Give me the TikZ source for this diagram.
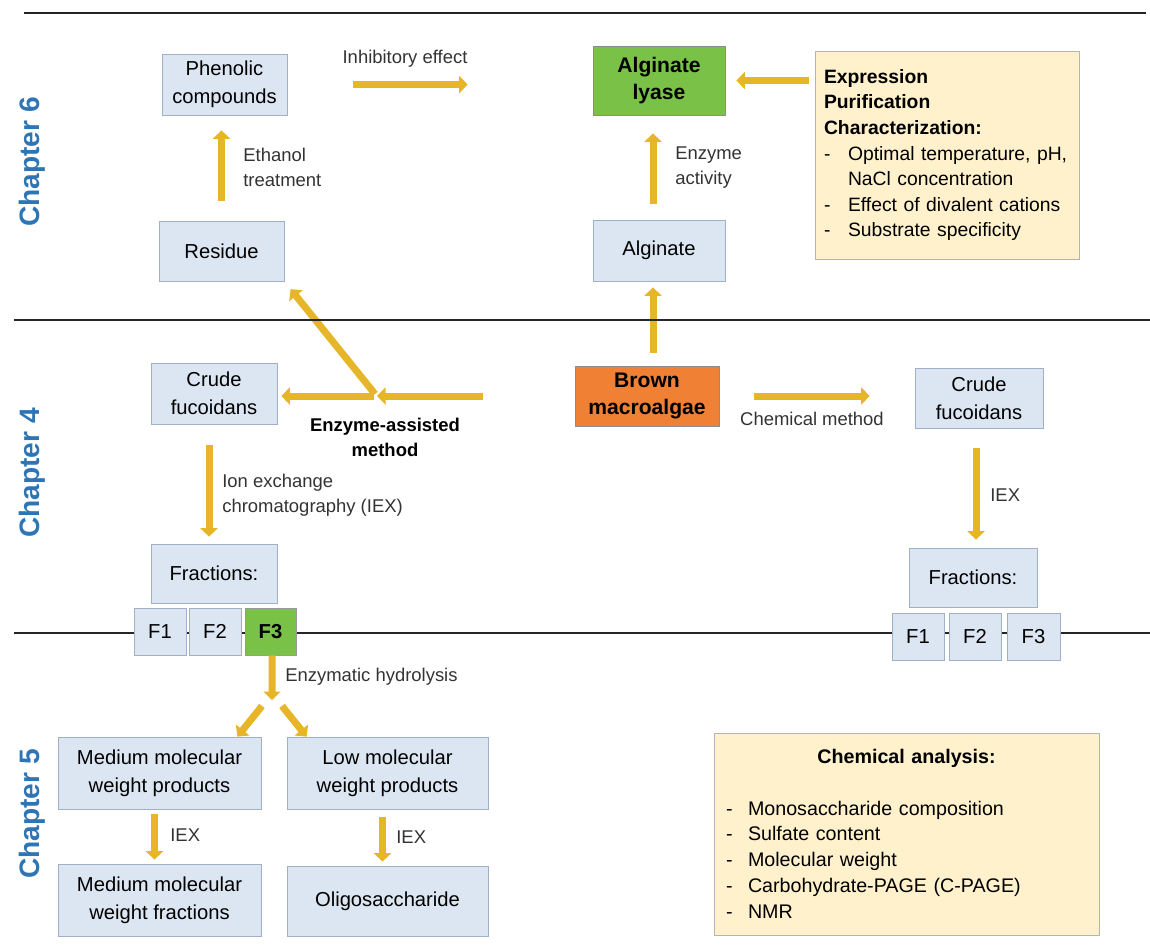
\documentclass[tikz,border=0pt]{standalone}
\usepackage{fontspec}
\setmainfont{Liberation Sans}
\usetikzlibrary{arrows.meta}

\definecolor{boxfill}{RGB}{220,230,242}
\definecolor{boxline}{RGB}{160,176,198}
\definecolor{leafgreen}{RGB}{122,193,72}
\definecolor{algaeorange}{RGB}{240,128,52}
\definecolor{notefill}{RGB}{255,241,204}
\definecolor{noteline}{RGB}{180,180,180}
\definecolor{flowgold}{RGB}{230,182,40}
\definecolor{chapblue}{RGB}{46,117,182}

\tikzset{
  box/.style={draw=boxline, fill=boxfill, align=center, inner sep=2pt,
    font=\fontsize{11.5}{15.9}\selectfont},
  sz/.style 2 args={minimum width=#1*0.02cm, minimum height=#2*0.02cm},
  keybox/.style={box, draw=black!45, font=\fontsize{12}{15.5}\selectfont\bfseries},
  notebox/.style={draw=noteline, fill=notefill, align=left, inner ysep=0.1cm},
  flow/.style={draw=flowgold, line width=0.14cm, -{Triangle[width=0.34cm,length=0.17cm]}},
  lbl/.style={font=\fontsize{10.5}{14.2}\selectfont, align=left, text=black!80, inner sep=0pt},
  chap/.style={font=\fontsize{16}{19}\selectfont\bfseries, text=chapblue, rotate=90},
  divider/.style={line width=0.055cm, black!85}
}

\begin{document}
\begin{tikzpicture}[x=0.02cm, y=-0.02cm]
  \useasboundingbox (0,0) rectangle (1150,951);

  %% Dividers
  \draw[divider] (24,13) -- (1146,13);
  \draw[divider] (14,633) -- (1150,633);

  %% Chapter labels
  \node[chap] (ch6) at (32,162) {Chapter 6};
  \node[chap] (ch4) at (32,473) {Chapter 4};
  \node[chap] (ch5) at (32,814) {Chapter 5};

  %% Chapter 6
  \node[box, sz={125}{61}] (phenolic) at (224.5,84.5) {Phenolic\\compounds};
  \node[box, sz={125}{60}] (residue) at (221.5,251) {Residue};
  \node[keybox, fill=leafgreen, sz={132}{69}] (lyase) at (659,80.5) {Alginate\\lyase};
  \node[box, sz={132}{61}] (alginate) at (659,250.5) {Alginate};
  \node[notebox, text width=4.92cm, inner xsep=0.18cm, minimum height=208*0.02cm,
    font=\fontsize{11}{14.6}\selectfont] (expr) at (947,155)
    {\textbf{Expression}\\
     \textbf{Purification}\\
     \textbf{Characterization:}\\
     \makebox[0.48cm][l]{-}Optimal temperature, pH,\\
     \hspace*{0.48cm}NaCl concentration\\
     \makebox[0.48cm][l]{-}Effect of divalent cations\\
     \makebox[0.48cm][l]{-}Substrate specificity};

  %% Chapter 4
  \node[keybox, fill=algaeorange, sz={144}{60}] (brown) at (647,396) {Brown\\macroalgae};
  \node[box, sz={126}{61}] (crudeL) at (214,393.5) {Crude\\fucoidans};
  \node[box, sz={128}{60}] (crudeR) at (979,398) {Crude\\fucoidans};
  \node[box, sz={126}{59}] (fracL) at (214,573.5) {Fractions:};
  \node[box, sz={128}{59}] (fracR) at (973,577.5) {Fractions:};
  \node[box, sz={52}{47}] (f1L) at (160,631.5) {F1};
  \node[box, sz={52}{47}] (f2L) at (215,631.5) {F2};
  \node[box, sz={51}{47}, fill=leafgreen, draw=black!40, font=\fontsize{11.5}{15.9}\selectfont\bfseries] (f3L) at (270.5,631.5) {F3};
  \node[box, sz={52}{47}] (f1R) at (918,636.5) {F1};
  \node[box, sz={52}{47}] (f2R) at (975,636.5) {F2};
  \node[box, sz={53}{47}] (f3R) at (1033.5,636.5) {F3};

  %% Chapter 5
  \node[box, sz={203}{72}] (medP) at (159.5,773) {Medium molecular\\weight products};
  \node[box, sz={201}{72}] (lowP) at (387.5,773) {Low molecular\\weight products};
  \node[box, sz={203}{72}] (medF) at (159.5,900) {Medium molecular\\weight fractions};
  \node[box, sz={201}{70}] (oligo) at (387.5,901) {Oligosaccharide};
  \node[notebox, text width=7.22cm, inner xsep=0.24cm, minimum height=202*0.02cm,
    font=\fontsize{11.2}{14.7}\selectfont] (chem) at (906.5,834)
    {\makebox[7.22cm]{\bfseries Chemical analysis:}\\[14.5pt]
     \makebox[0.44cm][l]{-}Monosaccharide composition\\
     \makebox[0.44cm][l]{-}Sulfate content\\
     \makebox[0.44cm][l]{-}Molecular weight\\
     \makebox[0.44cm][l]{-}Carbohydrate-PAGE (C-PAGE)\\
     \makebox[0.44cm][l]{-}NMR};

  %% Junctions
  \coordinate (split) at (377,396);
  \coordinate (fork) at (272,700);

  %% Flows
  \draw[flow, shorten <=0.4cm, shorten >=0.3cm] (residue.north) -- (residue.north |- phenolic.south);
  \draw[flow, shorten <=1.32cm, shorten >=2.5cm] (phenolic.east) -- (phenolic.east -| lyase.west);
  \draw[flow, shorten <=0.32cm, shorten >=0.36cm] ([xshift=-0.12cm]alginate.north) -- ([xshift=-0.12cm]lyase.south);
  \draw[flow, shorten <=0.12cm, shorten >=0.22cm] (lyase.east -| expr.west) -- (lyase.east);
  \draw[flow, shorten <=0.26cm, shorten >=0.12cm] ([xshift=0.12cm]brown.north) -- ([xshift=0.12cm]brown.north |- alginate.south);
  \draw[flow, shorten <=1.84cm] (brown.west) -- (split);
  \draw[flow, shorten >=0.08cm] ([xshift=-0.06cm]split) -- (split -| crudeL.east);
  \draw[flow, shorten >=0.2cm] ([xshift=-0.04cm, yshift=0.04cm]split) -- (residue.south east);
  \draw[flow, shorten <=0.7cm, shorten >=0.9cm] (brown.east) -- (brown.east -| crudeR.west);
  \draw[flow, shorten <=0.42cm, shorten >=0.14cm] ([xshift=-0.1cm]crudeL.south) -- ([xshift=-0.1cm]fracL.north);
  \draw[flow, shorten <=0.4cm, shorten >=0.16cm] ([xshift=-0.06cm]crudeR.south) -- ([xshift=-0.06cm]crudeR.south |- fracR.north);
  \draw[flow] ([xshift=0.03cm]f3L.south) -- (fork);
  \draw[flow] ([xshift=-0.2cm, yshift=-0.12cm]fork) -- ([xshift=-0.48cm]medP.north east);
  \draw[flow] ([xshift=0.2cm, yshift=-0.12cm]fork) -- ([xshift=0.4cm]lowP.north west);
  \draw[flow, shorten <=0.1cm, shorten >=0.08cm] ([xshift=-0.1cm]medP.south) -- ([xshift=-0.1cm]medF.north);
  \draw[flow, shorten <=0.16cm, shorten >=0.08cm] ([xshift=-0.1cm]lowP.south) -- ([xshift=-0.1cm]oligo.north);

  %% Middle divider over the flows
  \draw[divider] (14,320) -- (1150,320);

  %% Flow labels
  \node[lbl] (inhiblbl) at (405,59) {Inhibitory effect};
  \node[lbl, anchor=west] (ethlbl) at (243,167) {Ethanol\\treatment};
  \node[lbl, anchor=west] (actlbl) at (675,168) {Enzyme\\activity};
  \node[lbl, align=center, font=\fontsize{10.5}{14.2}\selectfont\bfseries, text=black] (easlbl) at (385,437) {Enzyme-assisted\\method};
  \node[lbl] (chemlbl) at (812,419) {Chemical method};
  \node[lbl, anchor=west] (ionlbl) at (222,495) {Ion exchange\\chromatography (IEX)};
  \node[lbl, anchor=west] (iexR) at (990,495) {IEX};
  \node[lbl, anchor=west] (hydlbl) at (285,677) {Enzymatic hydrolysis};
  \node[lbl, anchor=west] (iexM) at (170,835) {IEX};
  \node[lbl, anchor=west] (iexL) at (396,837) {IEX};
\end{tikzpicture}
\end{document}
